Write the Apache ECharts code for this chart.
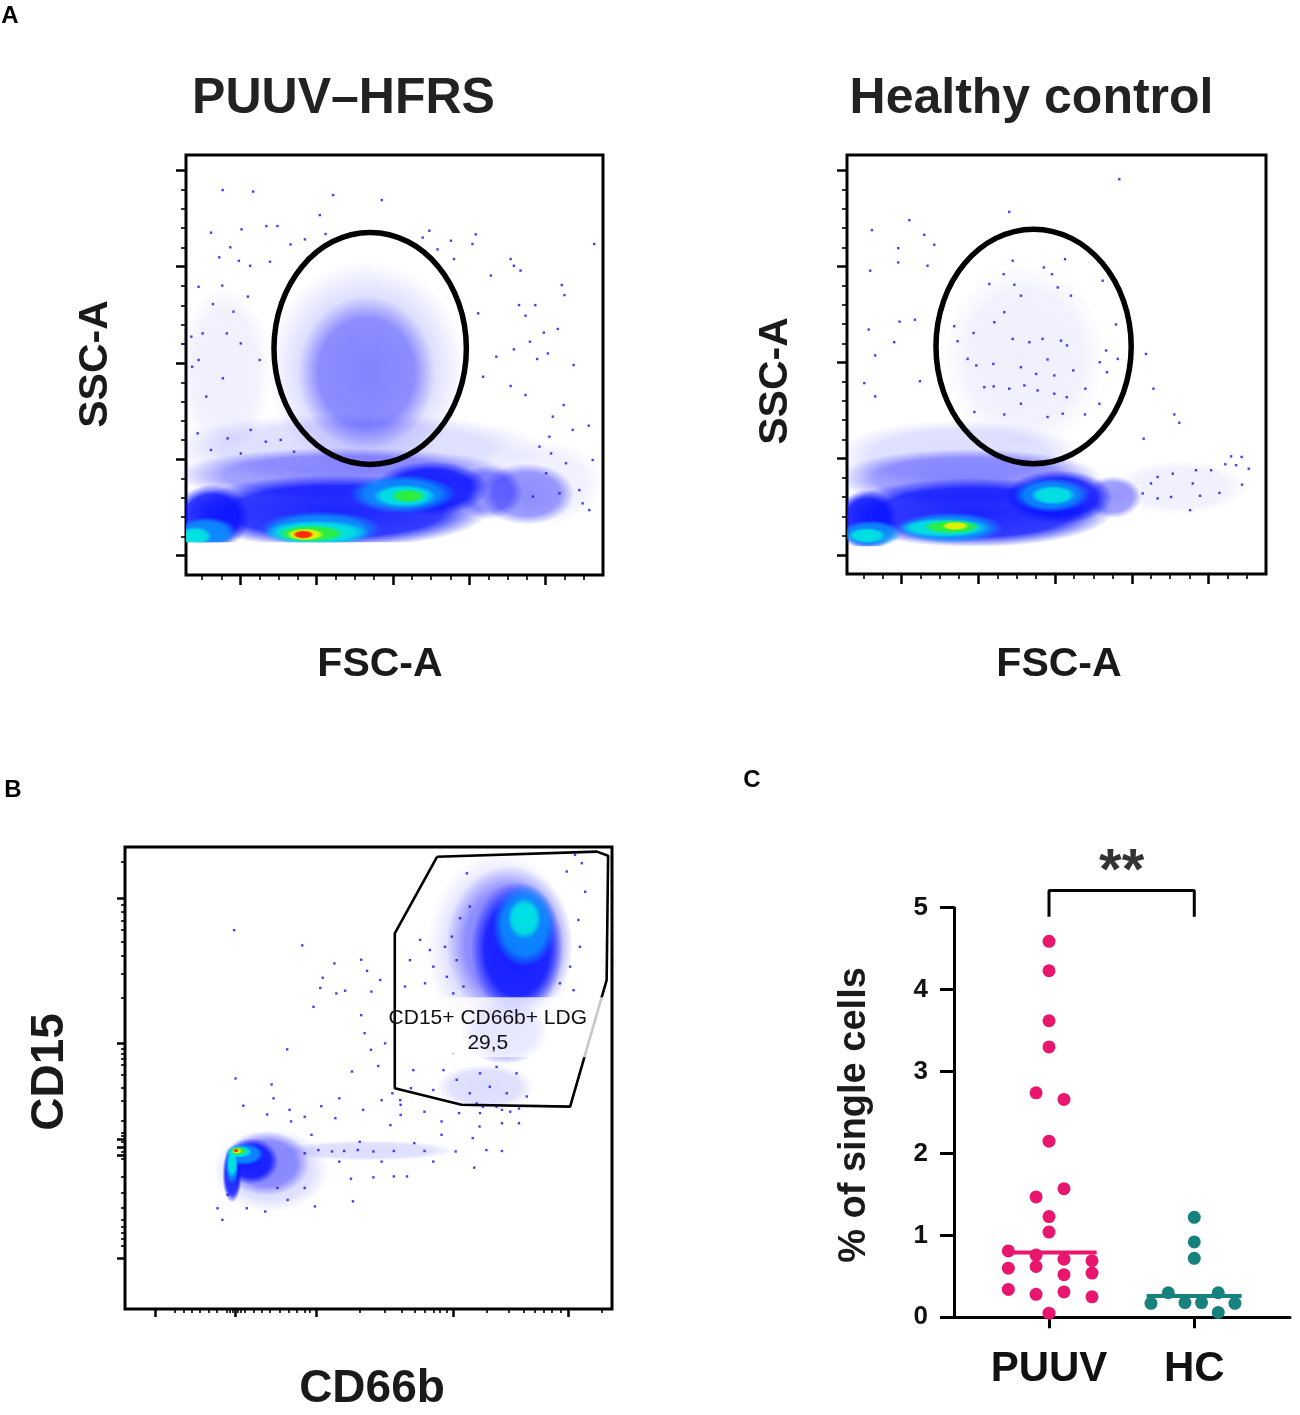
<!DOCTYPE html>
<html>
<head>
<meta charset="utf-8">
<script src="https://cdn.jsdelivr.net/npm/echarts@6/dist/echarts.min.js"></script>
<style>
  html, body { margin: 0; padding: 0; background: #fff; }
  #chart { width: 1300px; height: 1415px; }
</style>
</head>
<body>
<div id="chart"></div>
<script>
const FONT = '"Liberation Sans", Arial, Helvetica, sans-serif';

// ---------- panel A : FSC-A / SSC-A (linear, arbitrary x1000 units)
const fscRange = [11.5, 230];
const sscRange = [-10, 208];
const fscMajor = [40, 80, 120, 160, 200];
const fscMinor = [20, 30, 50, 60, 70, 90, 100, 110, 130, 140, 150, 170, 180, 190, 210, 220];
const sscMajor = [0, 50, 100, 150, 200];
const sscMinor = [10, 20, 30, 40, 60, 70, 80, 90, 110, 120, 130, 140, 160, 170, 180, 190];

// lowest SSC value recorded (events pile up on it)
const puuvFloor = 7;
const hcFloor = 4.5;

// density regions: [fsc, ssc, half width, half height, density level]
const puuvDensity = [
  [32, 95, 24, 45, 0], [200, 38, 30, 22, 0],
  [106, 97, 52, 56, 1], [100, 56, 100, 18, 1],
  [106, 95, 36, 40, 2], [95, 42, 90, 14, 2], [190, 32, 25, 16, 2], [170, 33, 18, 14, 2],
  [25, 20, 20, 17, 3], [90, 23, 80, 19, 3], [140, 35, 30, 14, 3],
  [22, 12, 16, 8, 4], [82, 14, 32, 9, 4], [125, 32, 28, 10, 4],
  [126, 31, 17, 6, 5], [80, 12, 28, 6.5, 5], [16, 10, 9, 5, 5],
  [128, 31, 9, 3.5, 6], [77, 11.5, 18, 4.5, 6],
  [74, 11, 10, 3.2, 7],
  [73, 11, 5.5, 2.2, 8]
];
const hcDensity = [
  [104, 103, 42, 48, 0], [185, 35, 35, 14, 0],
  [70, 52, 65, 18, 1],
  [75, 40, 70, 15, 2], [150, 30, 15, 11, 2],
  [22, 18, 16, 16, 3], [78, 22, 72, 18, 3], [122, 30, 28, 14, 3],
  [24, 11, 16, 7, 4], [65, 14, 28, 8, 4], [118, 31, 20, 9, 4],
  [119, 31, 12, 5, 5], [62, 14, 24, 5, 5], [22, 10, 10, 4, 5],
  [66, 14.5, 15, 3.6, 6],
  [68, 15, 7, 2.2, 7]
];

// single events outside the dense band
const puuvEvents = [
  [30.7, 189.8], [46.7, 189.0], [88.6, 187.2], [114.1, 184.6], [81.6, 176.8], [24.6, 167.7],
  [40.6, 169.4], [53.6, 171.1], [59.4, 171.1], [34.7, 160.1], [28.9, 154.9], [39.2, 153.1],
  [45.1, 150.5], [55.5, 152.6], [66.3, 161.6], [73.8, 164.2], [84.6, 167.0], [139.0, 168.7],
  [135.5, 165.1], [150.3, 163.5], [163.3, 166.8], [161.6, 161.8], [143.3, 159.0], [151.9, 154.0],
  [181.6, 154.0], [183.3, 150.5], [186.8, 148.0], [171.2, 145.4], [208.4, 140.5], [209.8, 135.3],
  [225.4, 161.8], [18.1, 139.6], [25.6, 130.6], [30.5, 140.2], [43.9, 134.5], [36.4, 126.7],
  [32.9, 115.4], [20.2, 115.4], [14.3, 113.7], [18.1, 101.6], [30.8, 92.1], [22.1, 82.6],
  [14.7, 98.1], [40.2, 110.2], [50.1, 101.6], [186.0, 130.1], [194.5, 130.1], [164.6, 125.8],
  [189.4, 124.6], [199.0, 115.8], [206.3, 117.7], [201.1, 105.0], [191.7, 111.1], [195.5, 102.1],
  [214.6, 99.0], [183.3, 107.1], [181.6, 88.1], [189.4, 83.4], [174.1, 103.3], [167.2, 92.9],
  [209.4, 78.2], [203.7, 72.2], [222.5, 67.5], [214.1, 65.3], [219.3, 27.2], [222.8, 23.7],
  [217.6, 34.1], [210.6, 48.0], [202.8, 53.1], [200.2, 42.8], [207.2, 32.4], [193.3, 30.7],
  [224.6, 49.7], [201.9, 61.8], [196.7, 56.6], [17.6, 63.5], [33.3, 60.9], [45.4, 65.3],
  [24.6, 54.9], [53.3, 59.2], [40.2, 53.1], [61.1, 60.1], [68.1, 54.0]
];
const hcEvents = [
  [153.5, 195.4], [96.1, 178.4], [44.0, 174.1], [24.5, 168.9], [51.8, 166.5], [57.0, 161.3],
  [38.2, 159.5], [38.2, 152.1], [53.5, 150.4], [23.6, 147.8], [97.9, 153.0], [125.2, 153.8],
  [114.1, 149.5], [118.4, 146.0], [93.2, 146.0], [85.7, 140.9], [98.8, 140.5], [102.2, 134.8],
  [121.4, 139.1], [128.3, 134.8], [144.8, 142.6], [151.8, 119.8], [146.6, 106.3], [152.7, 101.9],
  [167.4, 104.5], [171.3, 86.4], [182.2, 73.0], [184.8, 68.7], [166.2, 60.4], [22.8, 117.2],
  [38.9, 121.3], [46.9, 122.3], [36.1, 110.6], [26.2, 103.7], [67.4, 118.9], [77.5, 115.4],
  [69.2, 111.1], [88.3, 121.0], [93.5, 126.2], [97.9, 112.3], [106.6, 110.6], [113.5, 112.3],
  [116.1, 101.6], [123.1, 111.4], [126.2, 108.9], [74.4, 101.9], [78.9, 98.5], [87.8, 99.3],
  [102.2, 97.6], [110.1, 94.1], [119.6, 93.3], [129.5, 95.9], [143.3, 100.2], [147.1, 95.0],
  [20.5, 89.3], [49.5, 90.3], [26.2, 82.4], [83.1, 87.2], [88.0, 87.6], [96.1, 86.4],
  [104.0, 88.1], [110.9, 85.5], [119.6, 83.8], [126.1, 82.0], [135.8, 86.4], [143.1, 78.6],
  [102.2, 78.6], [77.9, 74.3], [116.1, 71.7], [124.0, 73.4], [135.6, 73.0], [93.5, 73.0],
  [211.8, 51.2], [217.3, 50.9], [208.8, 47.1], [221.0, 44.8], [214.4, 46.6], [201.4, 44.0],
  [193.5, 44.0], [181.4, 42.2], [173.5, 40.5], [191.8, 37.1], [205.7, 32.2], [217.5, 36.5],
  [195.6, 30.7], [190.4, 23.2], [180.5, 30.1], [170.0, 37.1], [173.5, 29.3], [165.7, 31.9]
];

// gates: [fsc centre, ssc centre, fsc radius, ssc radius]
const puuvGate = [108, 107.6, 50.4, 60.2];
const hcGate = [108.8, 108.4, 50.9, 61.0];

// ---------- panel B : CD66b / CD15 (biexponential display units 0-100)
const cd66bMajor = [6.2, 22.6, 39.2, 67.5, 91.1];
const cd66bMinor = [10.3, 12.0, 13.7, 15.4, 17.1, 18.8, 20.9, 21.6, 22.1, 23.2, 23.8, 24.5,
  26.4, 28.1, 29.8, 31.8, 33.6, 35.3, 37.0, 38.0, 48.3, 53.4, 56.8, 59.4, 61.6, 63.4, 64.7,
  66.1, 74.3, 78.8, 81.8, 84.1, 86.0, 87.7, 89.4, 97.9];
const cd15Major = [11.0, 33.3, 35.0, 36.8, 57.5, 89.0];
const cd15Minor = [96.8, 87.6, 85.9, 84.1, 82.0, 79.5, 76.5, 72.5, 67.3, 56.4, 55.3, 54.1,
  52.8, 50.7, 47.9, 45.0, 40.7, 38.2, 37.5, 36.1, 34.0, 32.6, 28.6, 25.1, 21.9, 19.4, 17.9,
  16.5, 15.1, 13.7];

const ldgDensity = [
  [77, 78, 15, 21, 1], [74, 48, 10, 5, 1], [30, 30, 12, 9, 1], [50, 34.3, 18, 2.2, 1],
  [79, 79, 13, 17, 2], [78, 60, 9, 7, 2], [29, 31.5, 9, 7, 2],
  [80.5, 78, 9.5, 14.5, 3], [26, 32, 5.5, 5, 3], [22, 29, 2, 6, 3],
  [82, 83, 6.5, 9, 4], [24.5, 33.5, 4, 2.4, 4], [22, 31, 1.4, 4, 4],
  [82, 84.5, 3.5, 4.5, 5], [23.5, 34, 2.6, 1.3, 5], [22, 31.5, 1, 3, 5],
  [23.3, 34.2, 1.8, 0.9, 6],
  [23, 34.2, 1.0, 0.6, 7],
  [22.8, 34.3, 0.6, 0.35, 8]
];
const ldgEvents = [
  [22.4, 82.0], [36.4, 78.7], [43.0, 74.8], [48.5, 75.6], [49.7, 73.2], [40.6, 71.7],
  [40.1, 69.5], [43.4, 68.3], [45.2, 68.9], [38.7, 65.4], [52.4, 71.2], [50.6, 68.7],
  [33.3, 56.2], [48.5, 63.6], [49.2, 59.7], [53.4, 57.5], [50.5, 56.1], [52.0, 52.6],
  [46.6, 51.4], [22.7, 49.9], [30.1, 48.6], [30.5, 45.6], [24.3, 44.0], [40.3, 43.9],
  [44.0, 45.6], [48.9, 43.1], [52.7, 45.2], [54.9, 46.7], [56.6, 44.2], [58.7, 47.8],
  [36.9, 41.6], [29.2, 42.1], [33.8, 43.1], [43.2, 41.3], [54.5, 39.8], [56.6, 42.0],
  [61.5, 42.7], [65.0, 40.6], [68.6, 42.4], [65.0, 37.7], [71.4, 37.0], [71.7, 30.6],
  [74.2, 34.4], [77.4, 34.2], [72.8, 39.5], [77.4, 40.2], [80.9, 40.2], [80.9, 43.4],
  [77.4, 43.1], [73.5, 43.8], [46.4, 28.2], [51.0, 28.5], [55.2, 28.7], [57.9, 28.7],
  [46.8, 23.3], [39.0, 22.2], [36.9, 26.2], [28.8, 21.1], [25.0, 21.8], [20.0, 19.3],
  [19.0, 21.8], [21.1, 24.7], [33.4, 23.6], [31.3, 26.2], [63.3, 31.9], [67.9, 34.1],
  [61.5, 34.2], [59.4, 35.9], [55.2, 34.2], [51.0, 34.1], [47.8, 34.4], [45.0, 34.2],
  [42.5, 34.1], [39.7, 34.4], [36.9, 33.7], [52.7, 31.9], [44.0, 31.9], [48.2, 36.2],
  [38.3, 37.7], [34.1, 40.6], [92.4, 98.3], [93.8, 96.5], [90.7, 94.7], [94.5, 90.3],
  [93.1, 84.2], [70.8, 87.1], [68.8, 84.6], [67.1, 80.6], [65.7, 78.4], [62.6, 77.7],
  [60.6, 79.9], [58.5, 75.5], [63.3, 74.1], [68.1, 75.5], [66.1, 71.9], [61.6, 70.5],
  [69.5, 69.8], [57.5, 69.8], [67.4, 68.3], [70.2, 94.3], [89.3, 70.5], [91.4, 74.1],
  [93.4, 78.4], [92.1, 69.0], [59.2, 51.7], [65.4, 51.7], [68.1, 49.6], [72.9, 51.0],
  [76.3, 52.4], [80.4, 51.0], [74.9, 48.1], [70.8, 46.7], [78.4, 46.7], [82.5, 46.0],
  [63.3, 47.4], [56.5, 45.2], [76.3, 43.8], [72.9, 42.4], [79.1, 42.7], [72.2, 44.5],
  [67.4, 55.3]
];
const ldgGate = [
  [64.1, 97.9], [96.9, 99.0], [99.2, 98.1], [98.9, 71.2], [91.4, 43.8],
  [69.1, 44.2], [55.4, 47.8], [55.4, 81.3], [64.1, 97.9]
];
const ldgLabel = ['CD15+ CD66b+ LDG', '29,5'];

// ---------- panel C : % of single cells
const groups = ['PUUV', 'HC'];
const puuvPct = [4.59, 4.23, 3.62, 3.30, 2.74, 2.66, 2.15, 1.47, 1.57, 1.23, 1.04, 0.81,
  0.76, 0.71, 0.69, 0.60, 0.62, 0.52, 0.54, 0.34, 0.28, 0.31, 0.25, 0.05];
const hcPct = [1.22, 0.92, 0.72, 0.30, 0.30, 0.17, 0.18, 0.18, 0.17, 0.06];
const medians = [0.79, 0.26];
const significance = '**';

// horizontal spread of the dots inside each column (fraction of group spacing)
const puuvSpread = [0, 0, 0, 0, -0.089, 0.103, 0, -0.089, 0.103, 0, 0, -0.28,
  -0.089, 0.103, 0.296, -0.28, -0.089, 0.103, 0.296, -0.28, -0.089, 0.103, 0.296, 0];
const hcSpread = [0, 0, 0, -0.179, 0.165, -0.298, -0.064, 0.05, 0.28, 0.165];

const PINK = '#e8166c';
const TEAL = '#17817d';

// ---------- drawing helpers
const levelStyle = [
  [32, 32, 255, 0.07],
  [26, 26, 255, 0.15],
  [16, 16, 255, 0.44],
  [8, 18, 255, 0.92],
  [10, 150, 255, 0.9],
  [0, 232, 224, 0.95],
  [48, 240, 48, 0.95],
  [244, 240, 0, 0.95],
  [255, 24, 0, 0.95]
];
function rgba(s, a) {
  return 'rgba(' + s[0] + ',' + s[1] + ',' + s[2] + ',' + a + ')';
}
function renderBlob(params, api) {
  const c = api.coord([api.value(0), api.value(1)]);
  const s = api.size([api.value(2), api.value(3)]);
  const st = levelStyle[api.value(4)];
  return {
    type: 'circle',
    x: c[0], y: c[1],
    scaleY: s[1] / s[0],
    shape: { cx: 0, cy: 0, r: s[0] },
    style: {
      fill: new echarts.graphic.RadialGradient(0.5, 0.5, 0.5, [
        { offset: 0, color: rgba(st, st[3]) },
        { offset: 0.7, color: rgba(st, st[3] * 0.9) },
        { offset: 1, color: rgba(st, 0) }
      ])
    }
  };
}
function renderGate(params, api) {
  const c = api.coord([api.value(0), api.value(1)]);
  const s = api.size([api.value(2), api.value(3)]);
  return {
    type: 'ellipse',
    shape: { cx: c[0], cy: c[1], rx: s[0], ry: s[1] },
    style: { fill: 'none', stroke: '#000', lineWidth: 5.5 }
  };
}

function tickAxis(gridIndex, range, values, len, width, position) {
  return {
    type: 'value', gridIndex, min: range[0], max: range[1], position,
    axisLine: { show: false, onZero: false },
    axisTick: { show: true, customValues: values, length: len, lineStyle: { color: '#000', width } },
    axisLabel: { show: false },
    splitLine: { show: false }
  };
}
function hiddenAxis(gridIndex, range) {
  return {
    type: 'value', gridIndex, min: range[0], max: range[1], show: false,
    axisLine: { onZero: false }, splitLine: { show: false }
  };
}
function frame(left, top, width, height) {
  return { left, top, width, height, show: true, borderColor: '#000', borderWidth: 3, backgroundColor: 'transparent' };
}

// grids (0: PUUV, 1: HC, 2: LDG, 3: percentages, 4/5: density layers clipped at the SSC floor)
const gA1 = { left: 186, top: 155, width: 417, height: 420 };
const gA2 = { left: 847, top: 155, width: 419, height: 419 };
const sscSpan = sscRange[1] - sscRange[0];
const grids = [
  frame(gA1.left, gA1.top, gA1.width, gA1.height),
  frame(gA2.left, gA2.top, gA2.width, gA2.height),
  frame(125, 847, 487, 462),
  { left: 954, top: 907.7, width: 336, height: 409.6, show: false },
  { left: gA1.left, top: gA1.top, width: gA1.width, height: gA1.height * (sscRange[1] - puuvFloor) / sscSpan, show: false },
  { left: gA2.left, top: gA2.top, width: gA2.width, height: gA2.height * (sscRange[1] - hcFloor) / sscSpan, show: false }
];

const cd66bRange = [0, 100];
const cd15Range = [0, 100];
const xAxes = [
  tickAxis(0, fscRange, fscMajor, 10, 2.5, 'bottom'),
  tickAxis(0, fscRange, fscMinor, 5, 1.6, 'bottom'),
  tickAxis(1, fscRange, fscMajor, 10, 2.5, 'bottom'),
  tickAxis(1, fscRange, fscMinor, 5, 1.6, 'bottom'),
  tickAxis(2, cd66bRange, cd66bMajor, 8, 2.5, 'bottom'),
  tickAxis(2, cd66bRange, cd66bMinor, 4, 1.6, 'bottom'),
  {
    type: 'value', gridIndex: 3, min: -0.654, max: 1.659, position: 'bottom',
    axisLine: { show: true, onZero: false, lineStyle: { color: '#000', width: 3 } },
    axisTick: { show: true, customValues: [0, 1], length: 11, lineStyle: { color: '#000', width: 3 } },
    axisLabel: {
      show: true, customValues: [0, 1], margin: 31,
      formatter: v => groups[Math.round(v)],
      fontFamily: FONT, fontWeight: 'bold', fontSize: 42, color: '#111'
    },
    splitLine: { show: false }
  },
  hiddenAxis(4, fscRange),
  hiddenAxis(5, fscRange)
];
const yAxes = [
  tickAxis(0, sscRange, sscMajor, 10, 2.5, 'left'),
  tickAxis(0, sscRange, sscMinor, 5, 1.6, 'left'),
  tickAxis(1, sscRange, sscMajor, 10, 2.5, 'left'),
  tickAxis(1, sscRange, sscMinor, 5, 1.6, 'left'),
  tickAxis(2, cd15Range, cd15Major, 8, 2.5, 'left'),
  tickAxis(2, cd15Range, cd15Minor, 4, 1.6, 'left'),
  {
    type: 'value', gridIndex: 3, min: 0, max: 5, interval: 1, position: 'left',
    axisLine: { show: true, onZero: false, lineStyle: { color: '#000', width: 3 } },
    axisTick: { show: true, length: 14, lineStyle: { color: '#000', width: 3 } },
    axisLabel: { margin: 26, fontFamily: FONT, fontWeight: 'bold', fontSize: 26, color: '#111' },
    splitLine: { show: false }
  },
  hiddenAxis(4, [puuvFloor, sscRange[1]]),
  hiddenAxis(5, [hcFloor, sscRange[1]])
];

function densitySeries(data, axis) {
  return { type: 'custom', xAxisIndex: axis, yAxisIndex: axis, data, renderItem: renderBlob, clip: true, silent: true, z: 1 };
}
function eventSeries(data, axis) {
  return {
    type: 'scatter', xAxisIndex: axis, yAxisIndex: axis, data, symbol: 'rect', symbolSize: 2.4,
    itemStyle: { color: '#1010ff' }, silent: true, z: 2
  };
}

const series = [
  densitySeries(puuvDensity, 7),
  densitySeries(hcDensity, 8),
  densitySeries(ldgDensity, 4),
  eventSeries(puuvEvents, 0),
  eventSeries(hcEvents, 2),
  eventSeries(ldgEvents, 4),
  { type: 'custom', xAxisIndex: 0, yAxisIndex: 0, data: [puuvGate], renderItem: renderGate, silent: true, z: 3 },
  { type: 'custom', xAxisIndex: 2, yAxisIndex: 2, data: [hcGate], renderItem: renderGate, silent: true, z: 3 },
  {
    type: 'line', xAxisIndex: 4, yAxisIndex: 4, data: ldgGate, symbol: 'none', silent: true, z: 3,
    lineStyle: { color: '#000', width: 2.6 }
  },
  {
    // gate label with its translucent white backing
    type: 'custom', xAxisIndex: 4, yAxisIndex: 4, silent: true, z: 4,
    data: [[55.8, 67.5, 98.3, 54.5]],
    renderItem: function (params, api) {
      const a = api.coord([api.value(0), api.value(1)]);
      const b = api.coord([api.value(2), api.value(3)]);
      const cx = api.coord([74.5, 0])[0];
      return {
        type: 'group',
        children: [
          { type: 'rect', shape: { x: a[0], y: a[1], width: b[0] - a[0], height: b[1] - a[1] },
            style: { fill: 'rgba(255,255,255,0.78)' } },
          { type: 'text', x: cx, y: a[1] + 21, style: { text: ldgLabel[0], font: '21px ' + FONT, fill: '#111', align: 'center', verticalAlign: 'middle' } },
          { type: 'text', x: cx, y: a[1] + 46, style: { text: ldgLabel[1], font: '21px ' + FONT, fill: '#111', align: 'center', verticalAlign: 'middle' } }
        ]
      };
    }
  },
  {
    type: 'scatter', xAxisIndex: 6, yAxisIndex: 6, symbolSize: 13, z: 5,
    data: puuvPct.map((v, i) => [0 + puuvSpread[i], v]),
    itemStyle: { color: PINK, opacity: 1 }
  },
  {
    type: 'scatter', xAxisIndex: 6, yAxisIndex: 6, symbolSize: 13, z: 5,
    data: hcPct.map((v, i) => [1 + hcSpread[i], v]),
    itemStyle: { color: TEAL, opacity: 1 }
  },
  {
    type: 'line', xAxisIndex: 6, yAxisIndex: 6, symbol: 'none', z: 6,
    data: [[-0.315, medians[0]], [0.328, medians[0]]],
    lineStyle: { color: PINK, width: 4 }
  },
  {
    type: 'line', xAxisIndex: 6, yAxisIndex: 6, symbol: 'none', z: 6,
    data: [[1 - 0.328, medians[1]], [1 + 0.326, medians[1]]],
    lineStyle: { color: TEAL, width: 4 }
  },
  {
    type: 'line', xAxisIndex: 6, yAxisIndex: 6, symbol: 'none', clip: false, z: 6,
    data: [[0, 4.89], [0, 5.21], [1, 5.21], [1, 4.89]],
    lineStyle: { color: '#000', width: 3 }
  },
  {
    type: 'scatter', xAxisIndex: 6, yAxisIndex: 6, symbolSize: 1, clip: false, z: 6,
    data: [[0.5, 5.42]],
    itemStyle: { color: 'transparent' },
    label: { show: true, position: 'inside', formatter: significance, fontFamily: FONT, fontWeight: 'bold', fontSize: 58, color: '#000' }
  }
];

function txt(text, x, y, size, rot, color) {
  return {
    type: 'text', x, y, rotation: rot || 0,
    style: { text, font: 'bold ' + size + 'px ' + FONT, fill: color || '#1a1a1a', align: 'center', verticalAlign: 'middle' }
  };
}
const graphics = [
  txt('A', 10, 16, 24, 0, '#000'),
  txt('B', 13, 790, 24, 0, '#000'),
  txt('C', 752, 780, 24, 0, '#000'),
  txt('PUUV\u2013HFRS', 343.5, 99.5, 50, 0, '#222'),
  txt('Healthy control', 1031.5, 99.5, 50, 0, '#222'),
  txt('SSC-A', 96, 364, 41, Math.PI / 2),
  txt('SSC-A', 776, 381, 41, Math.PI / 2),
  txt('FSC-A', 380, 665, 41),
  txt('FSC-A', 1059, 665, 41),
  txt('CD15', 50, 1072, 46, Math.PI / 2),
  txt('CD66b', 372, 1389, 46),
  txt('% of single cells', 855, 1115, 38, Math.PI / 2)
];

const chart = echarts.init(document.getElementById('chart'), null, { renderer: 'canvas' });
chart.setOption({
  animation: false,
  backgroundColor: '#fff',
  grid: grids,
  xAxis: xAxes,
  yAxis: yAxes,
  series: series,
  graphic: graphics
});
</script>
</body>
</html>
